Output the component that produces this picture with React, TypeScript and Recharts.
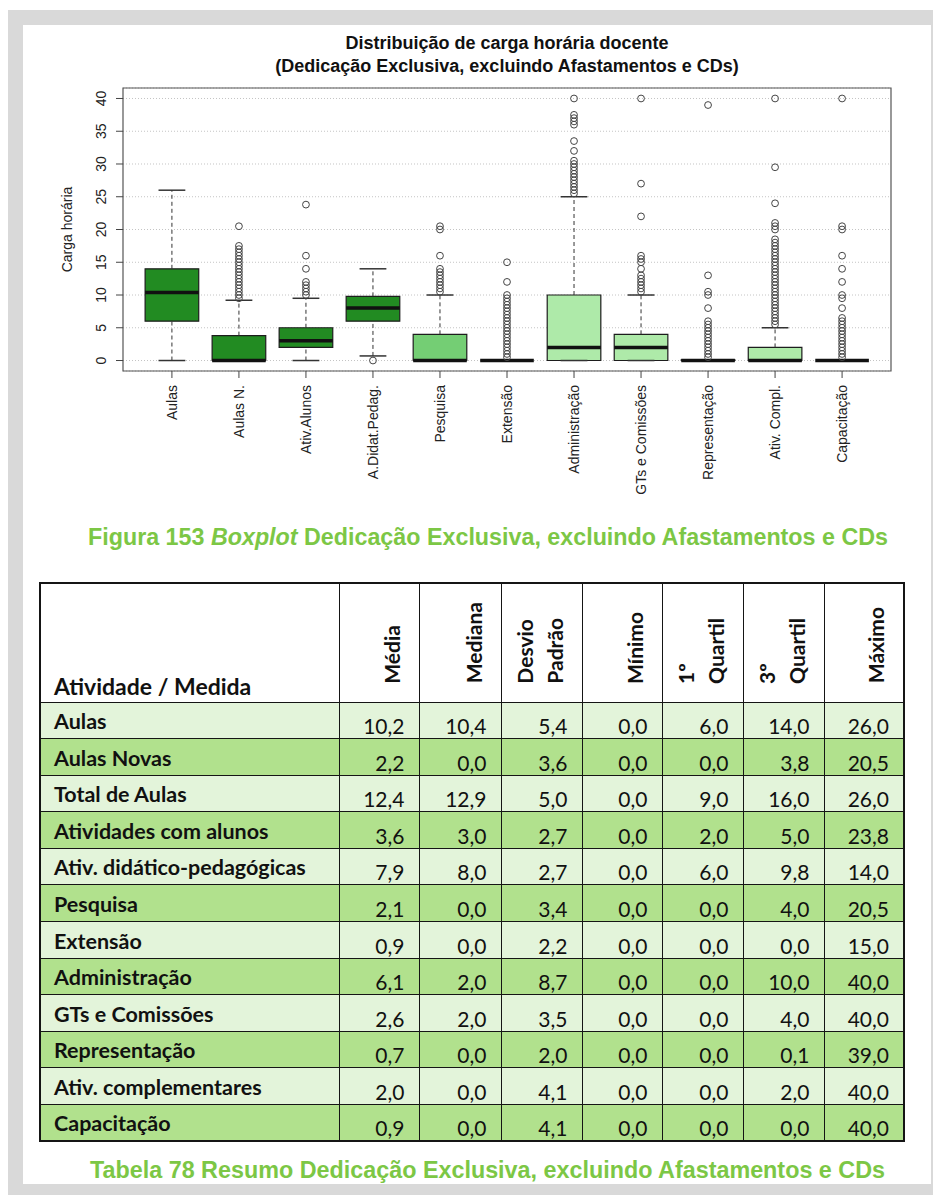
import React from "react";
import {
  ComposedChart,
  Scatter,
  XAxis,
  YAxis,
  CartesianGrid,
  ReferenceArea,
  ReferenceLine,
} from "recharts";

// ---- boxplot data ----
const CATEGORIES = [
  "Aulas",
  "Aulas N.",
  "Ativ.Alunos",
  "A.Didat.Pedag.",
  "Pesquisa",
  "Extensão",
  "Administração",
  "GTs e Comissões",
  "Representação",
  "Ativ. Compl.",
  "Capacitação",
];
const Q1 = [6, 0, 2, 6, 0, 0, 0, 0, 0, 0, 0];
const MEDIAN = [10.4, 0, 3, 8, 0, 0, 2, 2, 0, 0, 0];
const Q3 = [14, 3.8, 5, 9.8, 4, 0, 10, 4, 0.1, 2, 0];
const WHISK_LO = [0, 0, 0, 0.7, 0, 0, 0, 0, 0, 0, 0];
const WHISK_HI = [26, 9.2, 9.5, 14, 10, 0, 25, 10, 0.1, 5, 0];
const OUTLIERS: number[][] = [
  [],
  [20.5, 17.5, 17, 16.5, 16, 15.5, 15, 14.5, 14, 13.5, 13, 12.5, 12, 11.5, 11, 10.5, 10, 9.5],
  [23.8, 16, 14, 12, 11.5, 11, 10.5, 10],
  [0],
  [20.5, 20, 16, 14, 13.5, 13, 12.5, 12, 11.5, 11, 10.5],
  [15, 12, 10, 9.5, 9, 8.5, 8, 7.5, 7, 6.5, 6, 5.5, 5, 4.5, 4, 3.5, 3, 2.5, 2, 1.5, 1, 0.5],
  [40, 37.5, 37, 36.5, 36, 33.5, 32, 30.5, 30, 29.5, 29, 28.5, 28, 27.5, 27, 26.5, 26, 25.5],
  [40, 27, 22, 16, 15.5, 15, 14, 13, 12.5, 12, 11.5, 11, 10.5],
  [39, 13, 10.5, 10, 8, 6, 5.5, 5, 4.5, 4, 3.5, 3, 2.5, 2, 1.5, 1, 0.5],
  [40, 29.5, 24, 21, 20.5, 20, 18.5, 18, 17.5, 17, 16.5, 16, 15.5, 15, 14.5, 14, 13.5, 13, 12.5, 12, 11.5, 11, 10.5, 10, 9.5, 9, 8.5, 8, 7.5, 7, 6.5, 6, 5.5],
  [40, 20.5, 20, 16, 14, 12, 10, 9.5, 8, 6.5, 6, 5.5, 5, 4.5, 4, 3.5, 3, 2.5, 2, 1.5, 1, 0.5],
];
const BOX_FILL = [
  "#228b22", "#228b22", "#228b22", "#228b22",
  "#74ce74", "#74ce74",
  "#aeeaa9", "#aeeaa9", "#aeeaa9", "#aeeaa9", "#aeeaa9",
];
const Y_TICKS = [0, 5, 10, 15, 20, 25, 30, 35, 40];
const X_TICKS = [1, 2, 3, 4, 5, 6, 7, 8, 9, 10, 11];

// ---- summary table ----
const ACTIVITIES = [
  "Aulas",
  "Aulas Novas",
  "Total de Aulas",
  "Atividades com alunos",
  "Ativ. didático-pedagógicas",
  "Pesquisa",
  "Extensão",
  "Administração",
  "GTs e Comissões",
  "Representação",
  "Ativ. complementares",
  "Capacitação",
];
const MEDIA = [10.2, 2.2, 12.4, 3.6, 7.9, 2.1, 0.9, 6.1, 2.6, 0.7, 2.0, 0.9];
const MEDIANA = [10.4, 0.0, 12.9, 3.0, 8.0, 0.0, 0.0, 2.0, 2.0, 0.0, 0.0, 0.0];
const DESVIO = [5.4, 3.6, 5.0, 2.7, 2.7, 3.4, 2.2, 8.7, 3.5, 2.0, 4.1, 4.1];
const MINIMO = [0.0, 0.0, 0.0, 0.0, 0.0, 0.0, 0.0, 0.0, 0.0, 0.0, 0.0, 0.0];
const QUARTIL1 = [6.0, 0.0, 9.0, 2.0, 6.0, 0.0, 0.0, 0.0, 0.0, 0.0, 0.0, 0.0];
const QUARTIL3 = [14.0, 3.8, 16.0, 5.0, 9.8, 4.0, 0.0, 10.0, 4.0, 0.1, 2.0, 0.0];
const MAXIMO = [26.0, 20.5, 26.0, 23.8, 14.0, 20.5, 15.0, 40.0, 40.0, 39.0, 40.0, 40.0];
const HEADERS: string[][] = [
  ["Média"],
  ["Mediana"],
  ["Desvio", "Padrão"],
  ["Mínimo"],
  ["1º", "Quartil"],
  ["3º", "Quartil"],
  ["Máximo"],
];

const SANS = "'Liberation Sans', Arial, sans-serif";
const TABLE_FONT = "Lato, 'Open Sans', sans-serif";
const CAPTION_GREEN = "#7cc745";
const AXIS_FONT = 14;

const outlierData = OUTLIERS.flatMap((vals, i) => vals.map((v) => ({ x: i + 1, y: v })));

const fmt = (v: number) => v.toFixed(1).replace(".", ",");

function XTick({ x, y, payload }: any) {
  return (
    <text
      x={x}
      y={y}
      dy="0.35em"
      transform={`rotate(-90 ${x} ${y})`}
      textAnchor="end"
      fontSize={AXIS_FONT}
      fontFamily={SANS}
      fill="#222"
    >
      {CATEGORIES[payload.value - 1]}
    </text>
  );
}

function YTick({ x, y, payload }: any) {
  return (
    <text
      x={x}
      y={y}
      transform={`rotate(-90 ${x} ${y})`}
      textAnchor="middle"
      fontSize={AXIS_FONT}
      fontFamily={SANS}
      fill="#222"
    >
      {payload.value}
    </text>
  );
}

function Outlier({ cx, cy }: any) {
  return <circle cx={cx} cy={cy} r={3.4} fill="none" stroke="#444" strokeWidth={1} />;
}

function BoxChart() {
  return (
    <ComposedChart
      width={900}
      height={490}
      margin={{ top: 63, right: 32, bottom: 0, left: 0 }}
    >
      <CartesianGrid vertical={false} stroke="#c4c4c4" strokeDasharray="1 2" />
      <XAxis
        type="number"
        dataKey="x"
        domain={[0.27, 11.73]}
        ticks={X_TICKS}
        interval={0}
        allowDataOverflow
        height={144}
        axisLine={false}
        tickLine={{ stroke: "#444" }}
        tickSize={7}
        tickMargin={7}
        tick={<XTick />}
      />
      <YAxis
        type="number"
        dataKey="y"
        domain={[-1.6, 41.6]}
        ticks={Y_TICKS}
        allowDataOverflow
        width={100}
        axisLine={false}
        tickLine={{ stroke: "#444" }}
        tickSize={7}
        tickMargin={10}
        tick={<YTick />}
        label={(props: any) => {
          const vb = props.viewBox || { x: 0, y: 63, width: 100, height: 283 };
          const cx = vb.x + 49;
          const cy = vb.y + vb.height / 2;
          return (
            <text
              x={cx}
              y={cy}
              transform={`rotate(-90 ${cx} ${cy})`}
              textAnchor="middle"
              fontSize={AXIS_FONT}
              fontFamily={SANS}
              fill="#222"
            >
              Carga horária
            </text>
          );
        }}
      />
      {/* plot frame */}
      <ReferenceArea
        x1={0.27}
        x2={11.73}
        y1={-1.6}
        y2={41.6}
        fill="none"
        stroke="#555"
        strokeWidth={1.2}
        ifOverflow="visible"
      />
      {/* whiskers */}
      {CATEGORIES.map((c, i) => (
        <ReferenceLine
          key={"wh" + c}
          segment={[{ x: i + 1, y: Q3[i] }, { x: i + 1, y: WHISK_HI[i] }]}
          stroke="#333"
          strokeDasharray="4 3"
        />
      ))}
      {CATEGORIES.map((c, i) => (
        <ReferenceLine
          key={"wl" + c}
          segment={[{ x: i + 1, y: WHISK_LO[i] }, { x: i + 1, y: Q1[i] }]}
          stroke="#333"
          strokeDasharray="4 3"
        />
      ))}
      {CATEGORIES.map((c, i) => (
        <ReferenceLine
          key={"ch" + c}
          segment={[{ x: i + 0.8, y: WHISK_HI[i] }, { x: i + 1.2, y: WHISK_HI[i] }]}
          stroke="#333"
          strokeWidth={1.5}
        />
      ))}
      {CATEGORIES.map((c, i) => (
        <ReferenceLine
          key={"cl" + c}
          segment={[{ x: i + 0.8, y: WHISK_LO[i] }, { x: i + 1.2, y: WHISK_LO[i] }]}
          stroke="#333"
          strokeWidth={1.5}
        />
      ))}
      {/* boxes */}
      {CATEGORIES.map((c, i) => (
        <ReferenceArea
          key={"b" + c}
          x1={i + 0.6}
          x2={i + 1.4}
          y1={Q1[i]}
          y2={Q3[i]}
          fill={BOX_FILL[i]}
          fillOpacity={1}
          stroke="#1d1d1d"
          strokeWidth={1.2}
        />
      ))}
      {/* medians */}
      {CATEGORIES.map((c, i) => (
        <ReferenceLine
          key={"m" + c}
          segment={[{ x: i + 0.6, y: MEDIAN[i] }, { x: i + 1.4, y: MEDIAN[i] }]}
          stroke="#111"
          strokeWidth={3.5}
        />
      ))}
      <Scatter
        data={outlierData}
        dataKey="y"
        shape={<Outlier />}
        isAnimationActive={false}
      />
    </ComposedChart>
  );
}

function SummaryTable() {
  const cols = [MEDIA, MEDIANA, DESVIO, MINIMO, QUARTIL1, QUARTIL3, MAXIMO];
  const border = "1.5px solid #151515";
  const widths = [299, 80, 82, 81, 80, 81, 81, 80];
  return (
    <table
      style={{
        position: "absolute",
        left: 39,
        top: 582,
        width: 864,
        borderCollapse: "collapse",
        tableLayout: "fixed",
        fontFamily: TABLE_FONT,
        color: "#111",
        border: "2px solid #151515",
      }}
    >
      <colgroup>
        {widths.map((w, i) => (
          <col key={i} style={{ width: w }} />
        ))}
      </colgroup>
      <thead>
        <tr style={{ height: 119, background: "#fff" }}>
          <th
            style={{
              border,
              textAlign: "left",
              verticalAlign: "bottom",
              padding: "0 0 4px 13px",
              fontSize: 23,
              lineHeight: "24px",
              fontWeight: 700,
              whiteSpace: "nowrap",
            }}
          >
            Atividade / Medida
          </th>
          {HEADERS.map((lines, i) => (
            <th
              key={i}
              style={{
                border,
                textAlign: "right",
                verticalAlign: "bottom",
                padding: "0 12px 15px 0",
              }}
            >
              <div
                style={{
                  display: "inline-block",
                  writingMode: "vertical-rl",
                  transform: "rotate(180deg)",
                  fontSize: 21,
                  lineHeight: "30px",
                  fontWeight: 700,
                  textAlign: "left",
                  whiteSpace: "nowrap",
                }}
              >
                {lines.map((l, k) => (
                  <React.Fragment key={k}>
                    {k > 0 && <br />}
                    {l}
                  </React.Fragment>
                ))}
              </div>
            </th>
          ))}
        </tr>
      </thead>
      <tbody>
        {ACTIVITIES.map((a, r) => (
          <tr key={a} style={{ height: 36.6, background: r % 2 === 0 ? "#e3f4da" : "#b1e18d" }}>
            <td
              style={{
                border,
                fontWeight: 700,
                fontSize: 21.5,
                lineHeight: "22px",
                verticalAlign: "bottom",
                padding: "0 0 6px 13px",
                whiteSpace: "nowrap",
              }}
            >
              {a}
            </td>
            {cols.map((col, c) => (
              <td
                key={c}
                style={{
                  border,
                  fontSize: 21,
                  lineHeight: "22px",
                  textAlign: "right",
                  verticalAlign: "bottom",
                  padding: "0 14px 1px 0",
                }}
              >
                {fmt(col[r])}
              </td>
            ))}
          </tr>
        ))}
      </tbody>
    </table>
  );
}

export default function App() {
  return (
    <div
      style={{
        position: "absolute",
        left: 0,
        top: 0,
        width: 933,
        height: 1195,
        background: "#fff",
        overflow: "hidden",
      }}
    >
      <div style={{ position: "absolute", left: 8, top: 10, width: 925, height: 1185, background: "#d9d9d9" }} />
      <div style={{ position: "absolute", left: 23, top: 25, width: 908, height: 1159, background: "#fff" }} />

      <div
        style={{
          position: "absolute",
          left: 157,
          top: 32,
          width: 700,
          textAlign: "center",
          fontFamily: SANS,
          fontWeight: 700,
          fontSize: 18,
          lineHeight: "23px",
          color: "#111",
        }}
      >
        Distribuição de carga horária docente
        <br />
        (Dedicação Exclusiva, excluindo Afastamentos e CDs)
      </div>

      <div style={{ position: "absolute", left: 23, top: 25 }}>
        <BoxChart />
      </div>

      <svg style={{ position: "absolute", left: 0, top: 0 }} width={933} height={1195} pointerEvents="none">
        <text
          x={88}
          y={545}
          textLength={800}
          lengthAdjust="spacingAndGlyphs"
          fontFamily={SANS}
          fontWeight={700}
          fontSize={23}
          fill={CAPTION_GREEN}
        >
          Figura 153 <tspan fontStyle="italic">Boxplot</tspan> Dedicação Exclusiva, excluindo Afastamentos e CDs
        </text>
        <text
          x={90}
          y={1178}
          textLength={795}
          lengthAdjust="spacingAndGlyphs"
          fontFamily={SANS}
          fontWeight={700}
          fontSize={23}
          fill={CAPTION_GREEN}
        >
          Tabela 78 Resumo Dedicação Exclusiva, excluindo Afastamentos e CDs
        </text>
      </svg>

      <SummaryTable />
    </div>
  );
}
